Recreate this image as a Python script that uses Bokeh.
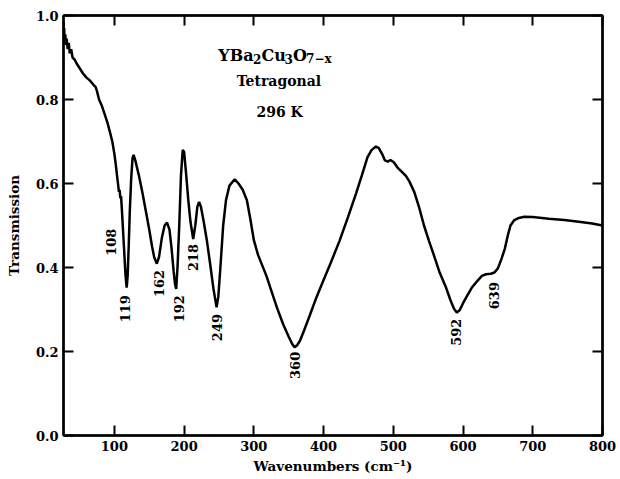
import math
from bokeh.plotting import figure
from bokeh.models import LinearAxis, FixedTicker, Range1d, NumeralTickFormatter, ColumnDataSource
from bokeh.core.properties import value
from bokeh.embed import file_html
from bokeh.resources import INLINE

# ---- data ----
wavenumber = [27, 27.5, 28, 28.5, 29.5, 30.5, 31.5, 33, 34.5, 36, 38, 40, 43, 46, 50, 55, 60, 65, 70, 73,
              75, 78, 82, 86, 90, 94, 97, 100, 102, 104, 105.5, 106.5, 107.5, 108.5, 109.5, 110.5, 112, 114, 116, 117.6,
              119, 120.5, 122, 124, 126, 127.5, 130, 135, 140, 145, 150, 154, 157, 160.8, 164, 168, 172, 175.5, 179, 182,
              185, 187, 188.6, 190.5, 193, 195.5, 198, 200, 203, 206, 209, 213, 216, 219, 221.5, 224, 228, 233, 238, 242,
              246.5, 249, 252, 256, 260, 265, 272.5, 278, 284, 290, 295, 300, 306, 312, 318, 325, 333, 342, 350, 355,
              358.4, 362, 366, 372, 380, 390, 400, 410, 423, 435, 446.5, 455, 463, 469, 475, 479, 484, 488, 492, 496,
              501, 506, 512, 518, 523, 530, 537, 544, 551, 558, 566, 575, 582, 587, 591, 595, 600, 606, 613, 620,
              627, 633, 640, 645, 650, 655, 660, 664, 668, 673, 680, 688, 700, 723, 745, 766, 785, 800]
transmission = [0.985, 0.95, 0.97, 0.935, 0.955, 0.93, 0.945, 0.92, 0.935, 0.91, 0.92, 0.9, 0.895, 0.885, 0.875, 0.862, 0.852, 0.845, 0.835, 0.83,
                0.82, 0.8, 0.785, 0.765, 0.745, 0.72, 0.7, 0.67, 0.645, 0.615, 0.595, 0.58, 0.585, 0.565, 0.57, 0.545, 0.5, 0.44, 0.38, 0.352,
                0.38, 0.45, 0.53, 0.61, 0.66, 0.668, 0.655, 0.62, 0.58, 0.535, 0.49, 0.45, 0.425, 0.409, 0.425, 0.47, 0.5, 0.507, 0.49, 0.445,
                0.39, 0.36, 0.349, 0.4, 0.5, 0.62, 0.68, 0.675, 0.62, 0.56, 0.51, 0.468, 0.5, 0.545, 0.556, 0.545, 0.51, 0.46, 0.4, 0.35,
                0.305, 0.33, 0.4, 0.5, 0.56, 0.595, 0.61, 0.6, 0.585, 0.56, 0.515, 0.465, 0.43, 0.405, 0.38, 0.345, 0.305, 0.265, 0.235, 0.218,
                0.21, 0.215, 0.225, 0.25, 0.285, 0.33, 0.37, 0.41, 0.464, 0.52, 0.576, 0.62, 0.663, 0.68, 0.688, 0.685, 0.67, 0.655, 0.652, 0.656,
                0.65, 0.638, 0.628, 0.618, 0.605, 0.58, 0.543, 0.5, 0.464, 0.43, 0.39, 0.355, 0.322, 0.302, 0.293, 0.298, 0.315, 0.333, 0.353, 0.367,
                0.38, 0.384, 0.385, 0.388, 0.398, 0.42, 0.445, 0.475, 0.5, 0.512, 0.518, 0.521, 0.52, 0.516, 0.513, 0.509, 0.505, 0.5]

peak_labels = ["108", "119", "162", "192", "218", "249", "360", "592", "639"]
peak_label_x = [95.6, 115.6, 163.4, 192.0, 213.4, 247.7, 358.4, 589.4, 644.0]
peak_label_y = [0.46, 0.302, 0.362, 0.302, 0.424, 0.257, 0.167, 0.246, 0.333]

# formula line, split into normal and subscript parts
formula_main = ["YBa", "Cu", "O"]
formula_sub = ["2", "3", "7\u2212x"]
formula_x = 249
formula_y = 0.905
info_lines = ["Tetragonal", "296 K"]
info_x = [336, 337]
info_y = [0.845, 0.771]

x_ticks = [100, 200, 300, 400, 500, 600, 700, 800]
y_ticks = [0.0, 0.2, 0.4, 0.6, 0.8, 1.0]

FONT = "DejaVu Serif"

p = figure(width=620, height=479, x_range=Range1d(27, 800), y_range=Range1d(0, 1.0),
           output_backend="svg", toolbar_location=None,
           min_border_left=63, min_border_right=18, min_border_top=15, min_border_bottom=44,
           background_fill_color="white", border_fill_color="white")
p.grid.visible = False
p.outline_line_color = "black"
p.outline_line_width = 2

def style_axis(ax, labels=True):
    ax.major_tick_in = 10
    ax.major_tick_out = 0
    ax.minor_tick_line_color = None
    ax.axis_line_width = 2.5
    ax.major_tick_line_width = 2
    ax.major_label_text_font = FONT
    ax.major_label_text_font_style = "bold"
    if labels:
        ax.major_label_text_font_size = "13px"
        ax.major_label_text_color = "black"
    else:
        ax.major_label_text_font_size = "1px"
        ax.major_label_text_color = None
        ax.major_label_standoff = 0

p.xaxis.ticker = FixedTicker(ticks=x_ticks)
p.yaxis.ticker = FixedTicker(ticks=y_ticks)
p.yaxis.formatter = NumeralTickFormatter(format="0.0")
style_axis(p.xaxis[0])
style_axis(p.yaxis[0])
p.xaxis.major_label_standoff = 5
p.yaxis.major_label_standoff = 5
p.xaxis.axis_label = "Wavenumbers (cm\u207B\u00B9)"
p.yaxis.axis_label = "Transmission"
for ax in (p.xaxis[0], p.yaxis[0]):
    ax.axis_label_text_font = FONT
    ax.axis_label_text_font_style = "bold"
    ax.axis_label_text_font_size = "13.5px"
    ax.axis_label_text_color = "black"
p.xaxis.axis_label_standoff = 4
p.yaxis.axis_label_standoff = 11

top = LinearAxis(ticker=FixedTicker(ticks=x_ticks))
style_axis(top, labels=False)
p.add_layout(top, "above")
right = LinearAxis(ticker=FixedTicker(ticks=y_ticks))
style_axis(right, labels=False)
p.add_layout(right, "right")

p.line(wavenumber, transmission, line_color="black", line_width=2.5)

src = ColumnDataSource(dict(x=peak_label_x, y=peak_label_y, t=peak_labels))
p.text(x="x", y="y", text="t", source=src, angle=math.pi / 2,
       text_font=value(FONT), text_font_style="bold", text_font_size="13px",
       text_align="center", text_baseline="middle", text_color="black")

# formula: main parts at 16px, subscripts at 12px lowered
main_w = [34.8, 23.1, 13.1]
sub_w = [8.4, 8.4, 0]
main_off, sub_off = [], []
acc = 0.0
for i in range(3):
    main_off.append(acc)
    acc += main_w[i]
    sub_off.append(acc)
    acc += sub_w[i]
p.text(x=[formula_x] * 3, y=[formula_y] * 3, text=formula_main, x_offset=main_off,
       text_font=value(FONT), text_font_style="bold", text_font_size="16px",
       text_align="left", text_baseline="alphabetic", text_color="black")
p.text(x=[formula_x] * 3, y=[formula_y] * 3, text=formula_sub, x_offset=sub_off, y_offset=4,
       text_font=value(FONT), text_font_style="bold", text_font_size="12px",
       text_align="left", text_baseline="alphabetic", text_color="black")

src2 = ColumnDataSource(dict(x=info_x, y=info_y, t=info_lines))
p.text(x="x", y="y", text="t", source=src2,
       text_font=value(FONT), text_font_style="bold", text_font_size="14px",
       text_align="center", text_baseline="middle", text_color="black")

open("out.html", "w").write(file_html(p, INLINE))
